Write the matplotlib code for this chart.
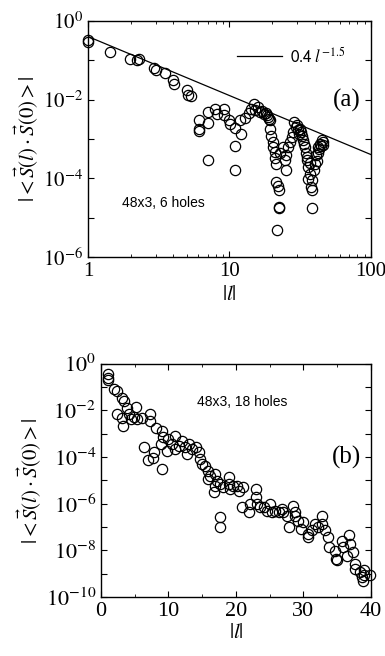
import matplotlib
matplotlib.use("Agg")
import matplotlib.pyplot as plt
import numpy as np
from matplotlib.ticker import FixedLocator, FuncFormatter, NullFormatter, LogLocator, MultipleLocator

plt.rcParams['font.family'] = ['Liberation Serif', 'DejaVu Serif']
plt.rcParams['mathtext.fontset'] = 'stix'

# ---- panel (a): 48x3, 6 holes ----
la = [1.0, 1.0, 1.44, 1.99, 2.22, 2.28, 2.94, 3.0, 3.51, 3.98, 4.02, 5.0, 5.13, 5.33,
      6.04, 6.07, 6.07, 7.03, 7.03, 7.0, 7.92, 8.1, 9.17, 9.17, 10.0, 10.1, 10.96, 12.0,
      11.0, 11.0, 11.9, 12.9, 13.8, 14.3, 14.9, 15.1, 16.0, 16.5, 17.4, 18.3, 18.8, 19.3,
      19.3, 19.7, 20.2, 20.4, 20.8, 21.0, 21.4, 21.4, 21.9, 22.4, 22.4, 22.5, 21.8, 22.7,
      23.9, 25.0, 24.6, 25.2, 26.0, 26.8, 27.5, 28.2, 28.7, 29.5, 30.6, 31.6, 32.2, 33.3,
      34.2, 34.7, 35.2, 36.0, 36.0, 37.5, 38.6, 38.5, 39.5, 40.1, 41.2, 42.3, 43.5, 44.9,
      46.0, 17.0, 18.0, 19.0, 30.0, 31.0, 32.8, 33.8, 35.5, 36.8, 37.0, 38.0, 42.0, 43.0,
      44.0, 45.5, 41.5]
Ca = [3.35e-1, 2.9e-1, 1.62e-1, 1.05e-1, 1.0e-1, 1.1e-1, 6.5e-2, 5.8e-2, 4.6e-2, 3.2e-2,
      2.45e-2, 1.78e-2, 1.29e-2, 1.2e-2, 3.1e-3, 1.74e-3, 1.58e-3, 4.9e-3, 2.57e-3, 3.0e-4,
      5.6e-3, 4.4e-3, 5.6e-3, 4.0e-3, 2.95e-3, 2.45e-3, 1.95e-3, 1.32e-3, 6.6e-4, 1.58e-4,
      2.95e-3, 3.5e-3, 4.6e-3, 5.9e-3, 7.9e-3, 5.4e-3, 6.5e-3, 4.9e-3, 4.4e-3, 4.0e-3,
      3.6e-3, 2.95e-3, 1.82e-3, 1.17e-3, 8.3e-4, 6.3e-4, 4.7e-4, 3.2e-4, 2.3e-4, 8.1e-5,
      6.3e-5, 5.1e-5, 1.86e-5, 1.8e-5, 4.9e-6, 4.3e-4, 6.3e-4, 1.58e-4, 2.9e-4, 3.8e-4,
      6.3e-4, 8.3e-4, 1.12e-3, 1.51e-3, 2.7e-3, 2.04e-3, 1.66e-3, 1.82e-3, 1.51e-3, 9.3e-4,
      6.3e-4, 4.3e-4, 2.9e-4, 1.95e-4, 9.8e-5, 6.0e-5, 4.9e-5, 1.78e-5, 1.58e-4, 2.3e-4,
      3.8e-4, 6.3e-4, 7.6e-4, 9.3e-4, 7.2e-4, 5.0e-3, 4.5e-3, 3.3e-3, 2.3e-3, 1.3e-3,
      1.2e-3, 7.5e-4, 3.5e-4, 1.3e-4, 2.5e-4, 9.0e-5, 4.5e-4, 5.5e-4, 6.5e-4, 8.5e-4, 2.8e-4]
fit_amp = 0.4
fit_exp = -1.5

# ---- panel (b): 48x3, 18 holes ----
lb = [1.0, 1.0, 1.0, 1.97, 2.4, 3.1, 3.45, 2.37, 3.1, 3.26, 3.85, 4.1, 4.44, 4.83, 5.23,
      5.33, 6.07, 7.3, 7.2, 8.19, 9.0, 9.2, 6.4, 6.9, 7.9, 7.7, 8.9, 9.0, 10.0, 9.8, 10.5,
      11.0, 11.0, 11.5, 12.0, 12.5, 13.0, 12.7, 13.5, 14.1, 14.5, 14.7, 14.9, 15.4, 15.9,
      16.2, 15.9, 16.9, 17.2, 16.9, 16.7, 17.7, 18.1, 17.6, 17.6, 18.9, 19.0, 19.1, 19.6,
      20.1, 20.5, 21.1, 20.9, 21.9, 22.1, 23.0, 23.0, 23.1, 23.6, 24.1, 24.6, 25.1, 25.3,
      25.8, 26.3, 26.8, 27.0, 27.8, 27.6, 28.5, 28.8, 28.8, 29.2, 29.7, 30.0, 30.7, 30.7,
      31.2, 31.7, 32.2, 32.7, 32.8, 33.2, 33.7, 33.8, 34.7, 34.8, 34.9, 35.7, 35.9, 36.4,
      36.8, 36.9, 37.4, 37.6, 37.6, 38.4, 38.6, 38.8, 39.0, 38.9, 39.8]
Cb = [3.5e-1, 2.5e-1, 1.95e-1, 7.9e-2, 6.8e-2, 3.5e-2, 2.4e-2, 7.2e-3, 4.6e-3, 2.2e-3,
      1.32e-2, 6.8e-3, 4.2e-3, 5.2e-3, 1.41e-2, 4.2e-3, 4.9e-3, 6.8e-3, 3.5e-3, 1.82e-3,
      1.32e-3, 6.9e-4, 2.75e-4, 7.4e-5, 1.58e-4, 9.5e-5, 3.5e-4, 3.0e-5, 5.9e-4, 1.86e-4,
      3.5e-4, 8.1e-4, 2.2e-4, 3.0e-4, 5.0e-4, 2.6e-4, 3.5e-4, 1.35e-4, 2.2e-4, 2.6e-4,
      1.58e-4, 8.1e-5, 5.0e-5, 4.3e-5, 2.6e-5, 1.58e-5, 1.15e-5, 1.86e-5, 9.8e-6, 5.9e-6,
      3.1e-6, 6.9e-6, 5.0e-6, 2.6e-7, 9.8e-8, 1.35e-5, 6.9e-6, 4.3e-6, 5.9e-6, 5.9e-6,
      3.6e-6, 5.0e-6, 7.1e-7, 4.3e-7, 9.8e-7, 4.3e-6, 1.86e-6, 9.8e-7, 7.1e-7, 7.1e-7,
      5.0e-7, 9.8e-7, 4.3e-7, 5.0e-7, 4.3e-7, 6.0e-7, 4.3e-7, 9.8e-8, 3.1e-7, 8.3e-7,
      4.3e-7, 3.1e-7, 1.9e-7, 8.3e-8, 1.62e-7, 5.1e-8, 3.6e-8, 7.1e-8, 1.35e-7, 9.8e-8,
      3.1e-7, 1.35e-7, 7.1e-8, 3.6e-8, 1.38e-8, 9.8e-9, 4.4e-9, 3.7e-9, 2.45e-8, 1.38e-8,
      6.0e-9, 4.4e-8, 1.9e-8, 8.3e-9, 2.6e-9, 1.62e-9, 1.17e-9, 7.1e-10, 5.1e-10, 1.38e-9,
      8.5e-10, 8.5e-10]

ylabel = r'$|<\vec{S}(l)\cdot\vec{S}(0)>|$'
xlabel = r'$|l|$'

fig = plt.figure(figsize=(3.85, 6.56), dpi=100)

def style(ax, fs):
    ax.tick_params(which='both', direction='in', top=True, right=True, labelsize=fs)
    ax.tick_params(which='major', length=4, width=0.8)
    ax.tick_params(which='minor', length=2, width=0.6)
    for s in ax.spines.values():
        s.set_linewidth(1.0)

def dec_fmt(v, pos):
    e = int(round(np.log10(v)))
    if e % 2 != 0:
        return ''
    return r'$10^{%d}$' % e

mk = dict(ls='none', marker='o', mfc='none', mec='black', ms=7.4, mew=0.9)

# panel (a)
axa = fig.add_axes([0.2286, 0.6082, 0.735, 0.36])
axa.set_xscale('log'); axa.set_yscale('log')
axa.set_xlim(1, 100); axa.set_ylim(1e-6, 1)
xx = np.array([1.0, 100.0])
axa.plot(xx, fit_amp * xx ** fit_exp, color='black', lw=0.9,
         label=r'$\mathsf{0.4}\ l^{-1.5}$')
axa.plot(la, Ca, clip_on=False, **mk)
axa.yaxis.set_major_locator(FixedLocator([1e-6, 1e-5, 1e-4, 1e-3, 1e-2, 1e-1, 1e0]))
axa.yaxis.set_major_formatter(FuncFormatter(dec_fmt))
axa.yaxis.set_minor_locator(FixedLocator([]))
axa.xaxis.set_major_locator(FixedLocator([1, 10, 100]))
axa.xaxis.set_major_formatter(FuncFormatter(lambda v, p: '%d' % v))
axa.xaxis.set_minor_locator(LogLocator(base=10, subs=np.arange(2, 10)))
axa.xaxis.set_minor_formatter(NullFormatter())
style(axa, 15)
axa.set_ylabel(ylabel, fontsize=15, labelpad=2)
axa.set_xlabel(xlabel, fontsize=15, labelpad=4)
leg = axa.legend(loc='center left', bbox_to_anchor=(0.527, 0.85), frameon=False,
                 handlelength=2.7, fontsize=12, handletextpad=0.5,
                 borderpad=0, borderaxespad=0)
axa.text(0.962, 0.665, '(a)', transform=axa.transAxes, ha='right', va='center', fontsize=18)
axa.text(0.12, 0.23, '48x3, 6 holes', transform=axa.transAxes, ha='left', va='center',
         fontsize=10, family=['Liberation Sans', 'DejaVu Sans'])

# panel (b)
axb = fig.add_axes([0.2623, 0.0899, 0.7013, 0.3557])
axb.set_yscale('log')
axb.set_xlim(0, 40); axb.set_ylim(1e-10, 1)
axb.plot(lb, Cb, clip_on=False, **mk)
axb.yaxis.set_major_locator(FixedLocator([10.0 ** k for k in range(-10, 1)]))
axb.yaxis.set_major_formatter(FuncFormatter(dec_fmt))
axb.yaxis.set_minor_locator(FixedLocator([]))
axb.xaxis.set_major_locator(MultipleLocator(10))
axb.xaxis.set_minor_locator(MultipleLocator(5))
style(axb, 16)
axb.set_ylabel(ylabel, fontsize=15, labelpad=2)
axb.set_xlabel(xlabel, fontsize=15, labelpad=2)
axb.text(0.962, 0.60, '(b)', transform=axb.transAxes, ha='right', va='center', fontsize=18)
axb.text(0.356, 0.836, '48x3, 18 holes', transform=axb.transAxes, ha='left', va='center',
         fontsize=10, family=['Liberation Sans', 'DejaVu Sans'])

fig.savefig('out.png', dpi=100)
